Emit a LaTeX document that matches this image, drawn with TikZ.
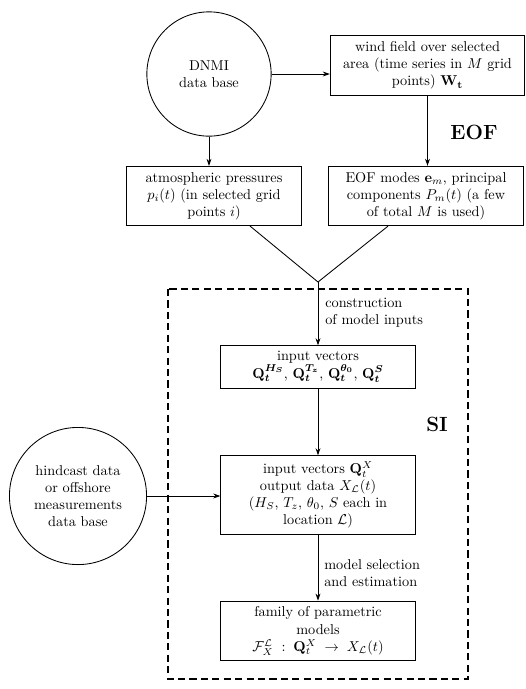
\documentclass[tikz,border=0pt]{standalone}
\usepackage{amsmath,amssymb,bm}
\usetikzlibrary{arrows.meta}
\begin{document}
\begin{tikzpicture}[x=0.7pt,y=-0.7pt,
  every node/.style={font=\normalsize},
  procbox/.style={draw,line width=0.6pt,align=center,text width=132pt,inner xsep=2pt,inner ysep=4pt},
  source/.style={draw,circle,line width=0.6pt,align=center,inner sep=0pt},
  arr/.style={line width=0.6pt,-{Stealth[length=5pt,width=3.4pt]}},
  link/.style={line width=0.6pt},
  steplabel/.style={align=left,anchor=west,inner sep=0pt},
  partlabel/.style={font=\Large\bfseries,inner sep=0pt}]
\useasboundingbox (0,0) rectangle (526,689);

% data sources
\node[source,minimum size=87pt] (dnmi) at (209,74) {DNMI\\data base};
\node[source,minimum size=96pt] (hind) at (78,496)
  {hindcast data\\or offshore\\measurements\\data base};

% EOF stage
\node[procbox] (wind) at (427.5,65.5)
  {wind field over selected\\area (time series in $M$ grid\\points) $\mathbf{W}_{\mathbf{t}}$};
\node[procbox,text width=118pt] (atm) at (214,196)
  {atmospheric pressures\\$p_i(t)$ (in selected grid\\points $i$)};
\node[procbox] (eof) at (426,196)
  {EOF modes $\mathbf{e}_m$, principal\\components $P_m(t)$ (a few\\of total $M$ is used)};
\node[partlabel] (eoflabel) at (474,132) {EOF};

% SI stage
\draw[dashed,line width=0.8pt,dash pattern=on 5pt off 3pt] (168,289) rectangle (468,679);
\node[partlabel] (silabel) at (437,424) {SI};
\node[procbox] (inp) at (318,367)
  {input vectors\\{\boldmath$\mathbf{Q}_t^{H_S}$, $\mathbf{Q}_t^{T_z}$, $\mathbf{Q}_t^{\theta_0}$, $\mathbf{Q}_t^{S}$}};
\node[procbox] (io) at (318,495)
  {input vectors $\mathbf{Q}_t^X$\\output data $X_{\mathcal{L}}(t)$\\($H_S$, $T_z$, $\theta_0$, $S$ each in\\location $\mathcal{L}$)};
\node[procbox] (fam) at (318,631)
  {family of parametric\\models\\$\mathcal{F}_X^{\mathcal{L}}:\mathbf{Q}_t^X\to X_{\mathcal{L}}(t)$};

\node[steplabel] (constr) at (325,313) {construction\\of model inputs};
\node[steplabel] (select) at (324,573) {model selection\\and estimation};

% connectors
\coordinate (join) at (318,282);
\coordinate (vl) at (250,0);
\coordinate (vr) at (388,0);
\draw[arr] (dnmi) -- (dnmi -| wind.west);
\draw[arr] (dnmi.south) -- (dnmi.south |- atm.north);
\draw[arr] (wind.south) -- (wind.south |- eof.north);
\draw[link] (atm.south -| vl) -- (join) -- (eof.south -| vr);
\draw[arr] (join) -- (inp.north);
\draw[arr] (inp) -- (io);
\draw[arr] (hind) -- (io.west |- hind);
\draw[arr] (io) -- (fam);
\end{tikzpicture}
\end{document}
